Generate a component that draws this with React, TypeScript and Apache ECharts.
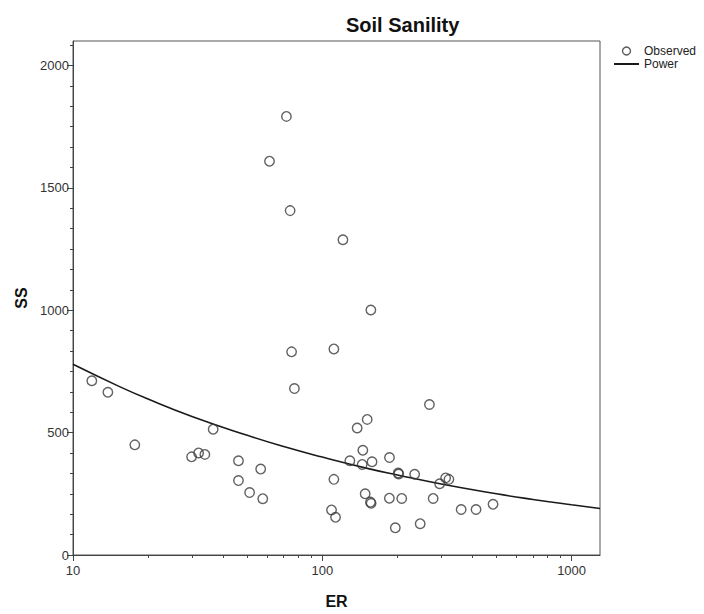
import React, { useEffect, useRef } from "react";
import * as echarts from "echarts";

// Observed points (ER, SS)
const erObserved = [
  11.9, 13.8, 17.7, 29.9, 31.9, 33.8, 36.5, 46.1, 46.1, 51.1, 56.6, 57.7,
  61.4, 71.8, 74.3, 75.3, 77.3, 108.9, 111.3, 111.3, 113, 121, 129, 138,
  145.4, 144.5, 148.6, 151.4, 156, 157, 156.6, 158.3, 186, 185.8, 196.3,
  201.6, 202.5, 208.3, 234.7, 247, 269, 278.4, 295.6, 312.4, 322, 360.6,
  413.7, 484,
];
const ssObserved = [
  712, 665, 450, 401, 417, 411, 514, 385, 304, 255, 351, 230,
  1609, 1792, 1407, 830, 680, 184, 842, 309, 154, 1288, 385, 519,
  428, 370, 250, 554, 216, 211, 1001, 381, 398, 232, 111,
  335, 331, 231, 330, 128, 615, 231, 291, 315, 309, 186,
  186, 207,
];

// Power fit curve
const powerER = [10, 15, 20, 30, 50, 70, 100, 150, 200, 300, 500, 700, 1000, 1300];
const powerSS = [779, 693, 637, 566, 489, 443, 400, 355, 327, 290, 250, 227, 205, 190];

// Axis ticks
const xMajorTicks = [10, 100, 1000];
const xMinorTicks = [20, 30, 40, 50, 60, 70, 80, 90, 200, 300, 400, 500, 600, 700, 800, 900];
const yMajorTicks = [0, 500, 1000, 1500, 2000];
const yMinorDivisions = 6;

const X_MIN = 10;
const X_MAX = 1300;
const Y_MIN = 0;
const Y_MAX = 2100;

const FONT = "'Liberation Sans', Arial, Helvetica, sans-serif";

function buildYMinor(): number[] {
  const out: number[] = [];
  const step = 500 / yMinorDivisions;
  for (let k = 1; k * step < Y_MAX; k++) {
    if (k % yMinorDivisions !== 0) out.push(Math.round(k * step * 1000) / 1000);
  }
  return out;
}

export default function App() {
  const ref = useRef<HTMLDivElement | null>(null);

  useEffect(() => {
    if (!ref.current) return;
    const chart = echarts.init(ref.current, undefined, { renderer: "svg" });
    const axisColor = "#444";
    const fmt = (v: number) => String(Math.round(v));

    const option: any = {
      animation: false,
      backgroundColor: "#ffffff",
      textStyle: { fontFamily: FONT },
      title: {
        text: "Soil Sanility",
        left: 341,
        top: 10,
        textStyle: { fontSize: 20, fontWeight: "bold", color: "#111", fontFamily: FONT },
      },
      legend: {
        orient: "vertical",
        left: 609,
        top: 40,
        itemWidth: 25,
        itemHeight: 8,
        itemGap: 1,
        textStyle: { fontSize: 12, color: "#222", fontFamily: FONT },
        data: [
          {
            name: "Observed",
            icon: "circle",
            itemStyle: { color: "rgba(255,255,255,0)", borderColor: "#333", borderWidth: 1.4 },
          },
          {
            name: "Power",
            icon: "path://M0,0 H25 V2 H0 Z",
            itemStyle: { color: "#1a1a1a", borderWidth: 0 },
          },
        ],
      },
      grid: {
        left: 73,
        right: 104,
        top: 41,
        bottom: 55,
        show: true,
        borderColor: "#555",
        borderWidth: 1,
        backgroundColor: "rgba(0,0,0,0)",
      },
      xAxis: [
        {
          type: "log",
          logBase: 10,
          min: X_MIN,
          max: X_MAX,
          position: "bottom",
          name: "ER",
          nameLocation: "middle",
          nameGap: 38,
          nameTextStyle: { fontSize: 16, fontWeight: "bold", color: "#111", fontFamily: FONT },
          axisLine: { show: true, lineStyle: { color: axisColor, width: 1 } },
          axisTick: { show: true, customValues: xMajorTicks, length: 6, lineStyle: { color: axisColor } },
          axisLabel: { customValues: xMajorTicks, fontSize: 13, color: "#333", margin: 9, formatter: fmt },
          splitLine: { show: false },
          minorTick: { show: false },
        },
        {
          type: "log",
          logBase: 10,
          min: X_MIN,
          max: X_MAX,
          position: "bottom",
          offset: 0,
          axisLine: { show: false },
          axisTick: { show: true, customValues: xMinorTicks, length: 3, lineStyle: { color: axisColor } },
          axisLabel: { show: false },
          splitLine: { show: false },
        },
      ],
      yAxis: [
        {
          type: "value",
          min: Y_MIN,
          max: Y_MAX,
          position: "left",
          name: "SS",
          nameLocation: "middle",
          nameGap: 44,
          nameRotate: 90,
          nameTextStyle: { fontSize: 16, fontWeight: "bold", color: "#111", fontFamily: FONT },
          axisLine: { show: true, lineStyle: { color: axisColor, width: 1 } },
          axisTick: { show: true, customValues: yMajorTicks, length: 6, lineStyle: { color: axisColor } },
          axisLabel: { customValues: yMajorTicks, fontSize: 13, color: "#333", margin: 4, formatter: fmt },
          splitLine: { show: false },
        },
        {
          type: "value",
          min: Y_MIN,
          max: Y_MAX,
          position: "left",
          offset: 0,
          axisLine: { show: false },
          axisTick: { show: true, customValues: buildYMinor(), length: 3, lineStyle: { color: axisColor } },
          axisLabel: { show: false },
          splitLine: { show: false },
        },
      ],
      series: [
        {
          type: "scatter",
          name: "Observed",
          xAxisIndex: 0,
          yAxisIndex: 0,
          data: erObserved.map((x, i) => [x, ssObserved[i]]),
          symbol: "circle",
          symbolSize: 9.5,
          itemStyle: { color: "rgba(255,255,255,0)", borderColor: "#3a3a3a", borderWidth: 1.4 },
          z: 3,
        },
        {
          type: "line",
          name: "Power",
          xAxisIndex: 0,
          yAxisIndex: 0,
          data: powerER.map((x, i) => [x, powerSS[i]]),
          smooth: true,
          symbol: "none",
          showSymbol: false,
          lineStyle: { color: "#1a1a1a", width: 1.6 },
          itemStyle: { color: "#1a1a1a" },
          z: 2,
        },
      ],
    };

    chart.setOption(option);
    return () => chart.dispose();
  }, []);

  return (
    <div
      ref={ref}
      style={{ position: "absolute", left: 0, top: 0, width: 704, height: 614, background: "#fff" }}
    />
  );
}
